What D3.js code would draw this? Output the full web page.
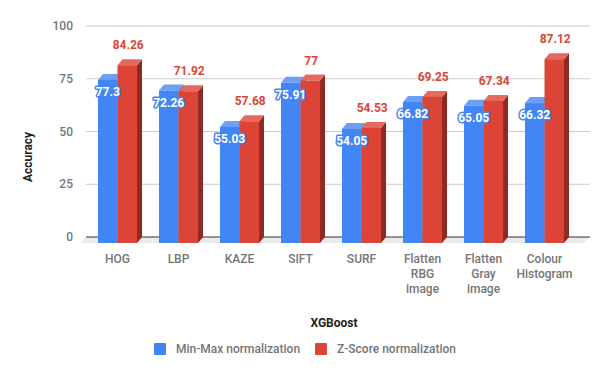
<!DOCTYPE html>
<html>
<head>
<meta charset="utf-8">
<script src="https://cdn.jsdelivr.net/npm/d3@7"></script>
<style>
  body { margin: 0; background: #fff; }
  svg { font-family: Roboto, Arial, sans-serif; }
</style>
</head>
<body>
<div id="body"></div>
<script>
// data
var categories = [
  ['HOG'], ['LBP'], ['KAZE'], ['SIFT'], ['SURF'],
  ['Flatten', 'RBG', 'image'], ['Flatten', 'Gray', 'image'], ['Colour', 'Histogram']
];
var minMax = [77.3, 72.26, 55.03, 75.91, 54.05, 66.82, 65.05, 66.32];
var zScore = [84.26, 71.92, 57.68, 77, 54.53, 69.25, 67.34, 87.12];
var yTicks = [0, 25, 50, 75, 100];
var seriesNames = ['Min-Max normalization', 'Z-Score normalization'];

var W = 608, H = 376;
var DX = 5, DY = 6; // 3d depth offset

var svg = d3.select('#body')
    .append('svg')
    .attr('width', W)
    .attr('height', H);

// back wall scale (gridlines) and front scale (bars)
var yBack = d3.scaleLinear().domain([0, 100]).range([237, 26]);
var yFront = function (v) { return yBack(v) + DY; };

var x = d3.scaleBand()
    .domain(d3.range(categories.length))
    .range([87, 575])
    .paddingInner(0.36)
    .paddingOuter(0.18);

var xs = d3.scaleBand().domain([0, 1]).range([0, x.bandwidth()]);

// floor
svg.append('polygon')
    .attr('points', [[80, 243], [86, 237], [590, 237], [584, 243]].join(' '))
    .attr('fill', '#ebebeb');

// gridlines
svg.selectAll('.grid')
    .data(yTicks.filter(function (d) { return d > 0; }))
  .enter().append('line')
    .attr('x1', 86).attr('x2', 590)
    .attr('y1', function (d) { return yBack(d); })
    .attr('y2', function (d) { return yBack(d); })
    .attr('stroke', '#cccccc');

svg.append('line')
    .attr('x1', 86).attr('x2', 590)
    .attr('y1', yBack(0)).attr('y2', yBack(0))
    .attr('stroke', '#333');

// y tick labels
svg.selectAll('.ytick')
    .data(yTicks)
  .enter().append('text')
    .attr('x', 73)
    .attr('y', function (d) { return yBack(d) + 4; })
    .attr('text-anchor', 'end')
    .attr('font-size', '12px')
    .attr('font-weight', 500)
    .attr('fill', '#757575')
    .text(function (d) { return d; });

svg.append('text')
    .attr('transform', 'translate(32,' + 157 + ') rotate(-90)')
    .attr('text-anchor', 'middle')
    .attr('font-size', '12px')
    .attr('font-weight', 'bold')
    .attr('fill', '#222')
    .text('Accuracy');

// bars
var colors = [
  { front: '#4285f4', top: '#6d9ff6', side: '#2a5cb8' },
  { front: '#db4437', top: '#e46a60', side: '#8f2a22' }
];

function drawBar (x0, w, v, c) {
  var yt = yFront(v), yb = yFront(0);
  svg.append('polygon')
      .attr('points', [[x0 + w, yt], [x0 + w + DX, yt - DY], [x0 + w + DX, yb - DY], [x0 + w, yb]].join(' '))
      .attr('fill', c.side);
  svg.append('polygon')
      .attr('points', [[x0, yt], [x0 + DX, yt - DY], [x0 + w + DX, yt - DY], [x0 + w, yt]].join(' '))
      .attr('fill', c.top);
  svg.append('rect')
      .attr('x', x0).attr('y', yt)
      .attr('width', w).attr('height', yb - yt)
      .attr('fill', c.front);
}

categories.forEach(function (cat, i) {
  drawBar(x(i) + xs(0), xs.bandwidth(), minMax[i], colors[0]);
  drawBar(x(i) + xs(1), xs.bandwidth(), zScore[i], colors[1]);
});

// value labels
categories.forEach(function (cat, i) {
  svg.append('text')
      .attr('x', x(i) + xs(1) + xs.bandwidth() / 2 + 1)
      .attr('y', yFront(zScore[i]) - 16)
      .attr('text-anchor', 'middle')
      .attr('font-size', '12px')
      .attr('font-weight', 'bold')
      .attr('fill', '#db4437')
      .text(zScore[i]);
  svg.append('text')
      .attr('x', x(i) + xs(0) + xs.bandwidth() / 2)
      .attr('y', yFront(minMax[i]) + 16)
      .attr('text-anchor', 'middle')
      .attr('font-size', '12px')
      .attr('font-weight', 'bold')
      .attr('fill', '#fff')
      .attr('stroke', '#4285f4')
      .attr('stroke-width', 3)
      .attr('stroke-linejoin', 'round')
      .attr('paint-order', 'stroke')
      .text(minMax[i]);
});

// category labels
categories.forEach(function (cat, i) {
  var t = svg.append('text')
      .attr('text-anchor', 'middle')
      .attr('font-size', '12px')
      .attr('font-weight', 500)
      .attr('fill', '#757575');
  cat.forEach(function (line, j) {
    t.append('tspan')
        .attr('x', x(i) + x.bandwidth() / 2)
        .attr('y', 263 + j * 15)
        .text(line);
  });
});

svg.append('text')
    .attr('x', 334).attr('y', 327)
    .attr('text-anchor', 'middle')
    .attr('font-size', '12px')
    .attr('font-weight', 'bold')
    .attr('fill', '#222')
    .text('XGBoost');

// legend
var legendX = [154, 315];
seriesNames.forEach(function (name, i) {
  svg.append('rect')
      .attr('x', legendX[i]).attr('y', 343)
      .attr('width', 12).attr('height', 12)
      .attr('rx', 1)
      .attr('fill', colors[i].front);
  svg.append('text')
      .attr('x', legendX[i] + 22).attr('y', 353)
      .attr('font-size', '12px')
      .attr('font-weight', 500)
      .attr('fill', '#757575')
      .text(name);
});
</script>
</body>
</html>
